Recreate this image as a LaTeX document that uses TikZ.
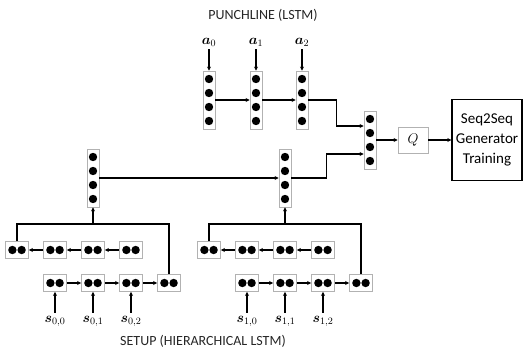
\documentclass[tikz,border=0pt]{standalone}
\usepackage{fix-cm}
\usepackage{amsmath}
\usepackage{fontspec}
\setmainfont{Carlito}
\usepackage{tikz}
\usetikzlibrary{arrows.meta}

\tikzset{
    conn/.style={line width=1.6pt},
    vcell/.style={draw=gray!60, line width=0.8pt, fill=white, minimum width=12pt, minimum height=58pt, inner sep=0pt,
        path picture={\foreach \k in {-21,-7,7,21} \fill[black] ([yshift=\k pt]path picture bounding box.center) circle (4.2pt);}},
    hcell/.style={draw=gray!60, line width=0.8pt, fill=white, minimum width=23pt, minimum height=17pt, inner sep=0pt,
        path picture={\foreach \k in {-4.6,4.6} \fill[black] ([xshift=\k pt]path picture bounding box.center) circle (4.2pt);}},
    lbl/.style={inner sep=3pt, font=\fontsize{14}{16}\selectfont},
    title/.style={text=black!85, font=\fontsize{14}{16}\selectfont},
    qbox/.style={draw=gray!60, line width=0.8pt, minimum width=30pt, minimum height=26pt, inner sep=0pt, font=\fontsize{14}{16}\selectfont},
    seqbox/.style={draw, line width=1.3pt, minimum width=70pt, minimum height=81pt, align=center, inner sep=0pt, font=\fontsize{15}{20}\selectfont}
}

\begin{document}
\begin{tikzpicture}[x=1pt,y=-1pt,>={Stealth[length=4pt,width=4pt]}]
        \useasboundingbox (0,0) rectangle (525,352);
        \node[title] (pl) at (263,15) {PUNCHLINE (LSTM)};
        \node[title] (su) at (203,341) {SETUP (HIERARCHICAL LSTM)};
        % punchline
        \foreach \k/\x in {0/209,1/256,2/302} {
            \node[vcell] (p\k) at (\x,100) {};
            \node[lbl] (a\k) at (\x,42) {$\boldsymbol{a}_\k$};
            \draw[conn,->] (a\k) -- (p\k);
        }
        \draw[conn,->] (p0) -- (p1);
        \draw[conn,->] (p1) -- (p2);
        % setup
        \foreach \g/\dx in {0/0,1/192} {
            \node[vcell] (t\g) at (93+\dx,178) {};
            \foreach \k in {0,1,2,3} {
                \node[hcell] (b\g\k) at (17+38*\k+\dx,250) {};
                \node[hcell] (f\g\k) at (55+38*\k+\dx,283) {};
            }
            \foreach \k/\j in {0/1,1/2,2/3} {
                \draw[conn,->] (b\g\j) -- (b\g\k);
                \draw[conn,->] (f\g\k) -- (f\g\j);
                \node[lbl] (s\g\k) at (55+38*\k+\dx,321) {$\boldsymbol{s}_{\g,\k}$};
                \draw[conn,->] (s\g\k) -- (f\g\k);
            }
            \coordinate (j\g) at (93+\dx,224);
            \draw[conn] (b\g0.north) |- (j\g) -| (f\g3.north);
            \draw[conn,->] (j\g) -- (t\g);
        }
        \draw[conn,->] (t0) -- (t1);
        % merge
        \node[vcell] (m) at (370,140) {};
        \draw[conn,->] (p2.east) -- ++(28,0) |- ([yshift=14pt]m.west);
        \draw[conn,->] (t1.east) -- ++(35,0) |- ([yshift=-14pt]m.west);
        \node[qbox] (q) at (413,140) {$Q$};
        \node[seqbox] (gen) at (487,140) {Seq2Seq\\Generator\\Training};
        \draw[conn,->] (m) -- (q);
        \draw[conn,->] (q) -- (gen);
    \end{tikzpicture}
\end{document}
